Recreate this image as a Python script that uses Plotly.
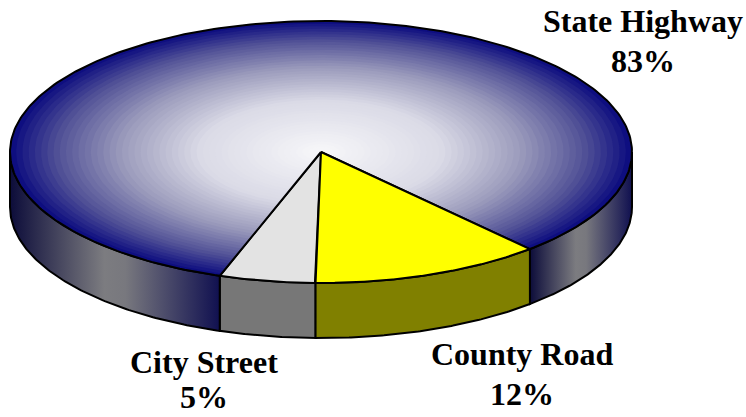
import numpy as np
import plotly.graph_objects as go

# ---- data (clockwise order starting just left of the front-bottom point) ----
categories = ["City Street", "State Highway", "County Road"]
values = [5, 83, 12]

# ---- style / geometry ----
W, H = 746, 417
CX, CY, A, B, DEPTH = 321, 152, 311, 131, 55
START_DEG = 1.0
top_colors = {"City Street": "#e3e3e3", "County Road": "#ffff00"}
side_colors = {"City Street": "#777777", "County Road": "#808000"}
# (x center, y of name line middle, y of percent line middle)
label_pos = {"State Highway": (643, 21, 61), "County Road": (522, 354, 394), "City Street": (204, 362, 397)}
OUT = dict(color="black", width=2)
FONT = dict(family="Liberation Serif", size=32, color="black")


def pt(phi_deg, dy=0.0):
    p = np.radians(phi_deg)
    return CX - A * np.sin(p), CY + B * np.cos(p) + dy


def arc(a0, a1, dy=0.0, n=120):
    ph = np.linspace(a0, a1, n)
    xs, ys = pt(ph, dy)
    return list(xs), list(ys)


total = float(sum(values))
spans = []
cur = START_DEG
for c, v in zip(categories, values):
    d = 360.0 * v / total
    spans.append((c, cur, cur + d))
    cur += d

fig = go.Figure()


def side_poly(a0, a1):
    xt, yt = arc(a0, a1)
    xb, yb = arc(a1, a0, DEPTH)
    return xt + xb + [xt[0]], yt + yb + [yt[0]]


def visible_parts(a0, a1):
    parts = []
    for k in (-360, 0, 360):
        lo, hi = max(a0, -90 + k), min(a1, 90 + k)
        if hi > lo:
            parts.append((lo, hi))
    return parts


sh_side_scale = [[0, "#0c0c3a"], [0.45, "#7c7c80"], [0.55, "#78787e"], [1, "#101050"]]

# sides
for c, a0, a1 in spans:
    for lo, hi in visible_parts(a0, a1):
        xs, ys = side_poly(lo, hi)
        kw = {}
        if c == "State Highway":
            kw["fillgradient"] = dict(type="horizontal", colorscale=sh_side_scale,
                                      start=min(xs), stop=max(xs))
            kw["fillcolor"] = "#555566"
        else:
            kw["fillcolor"] = side_colors[c]
        fig.add_trace(go.Scatter(x=xs, y=ys, mode="lines", fill="toself",
                                 line=OUT, hoverinfo="skip", showlegend=False, **kw))

# top faces
grad_stops = [(0.0, (248, 248, 250)), (0.4, (218, 218, 230)), (0.65, (155, 155, 188)),
              (0.85, (85, 85, 152)), (1.0, (14, 14, 128))]


def grad_color(s):
    for (s0, c0), (s1, c1) in zip(grad_stops[:-1], grad_stops[1:]):
        if s <= s1:
            t = (s - s0) / (s1 - s0)
            c = [round(c0[i] + t * (c1[i] - c0[i])) for i in range(3)]
            return "rgb(%d,%d,%d)" % tuple(c)
    return "rgb(%d,%d,%d)" % grad_stops[-1][1]


for c, a0, a1 in spans:
    xa, ya = arc(a0, a1, n=300)
    xs = [CX] + xa + [CX]
    ys = [CY] + ya + [CY]
    if c == "State Highway":
        for s in np.linspace(1.0, 0.02, 50):
            lx = [CX + s * (x - CX) for x in xs]
            ly = [CY + s * (y - CY) for y in ys]
            fig.add_trace(go.Scatter(x=lx, y=ly, mode="lines", fill="toself",
                                     fillcolor=grad_color(s), line=dict(width=0),
                                     hoverinfo="skip", showlegend=False))
        fig.add_trace(go.Scatter(x=xs, y=ys, mode="lines", line=OUT,
                                 hoverinfo="skip", showlegend=False))
    else:
        fig.add_trace(go.Scatter(x=xs, y=ys, mode="lines", fill="toself",
                                 fillcolor=top_colors[c], line=OUT,
                                 hoverinfo="skip", showlegend=False))

for c, v in zip(categories, values):
    x, y1, y2 = label_pos[c]
    pct = round(100 * v / total)
    for txt, yy in (("<b>%s</b>" % c, y1), ("<b>%d%%</b>" % pct, y2)):
        fig.add_annotation(x=x, y=yy, xref="x", yref="y", showarrow=False, borderpad=0,
                           text=txt, xanchor="center", yanchor="middle", font=FONT)

fig.update_xaxes(range=[0, W], visible=False, fixedrange=True)
fig.update_yaxes(range=[H, 0], visible=False, fixedrange=True)
fig.update_layout(width=W, height=H, margin=dict(l=0, r=0, t=0, b=0),
                  plot_bgcolor="white", paper_bgcolor="white", showlegend=False)
fig.write_html("out.html", config={"displayModeBar": False},
               post_script="document.body.style.margin='0';document.body.style.overflow='hidden';")
